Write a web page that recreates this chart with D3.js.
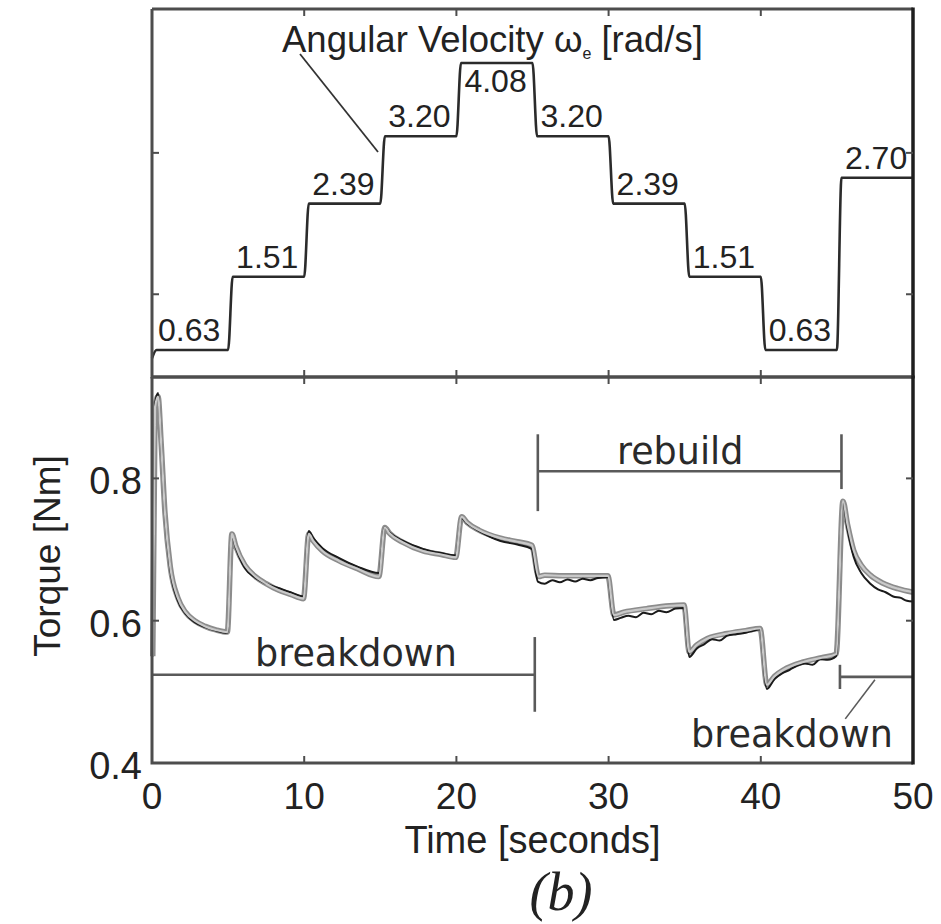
<!DOCTYPE html>
<html>
<head>
<meta charset="utf-8">
<script src="https://cdn.jsdelivr.net/npm/d3@7/dist/d3.min.js"></script>
<style>
  html, body { margin: 0; padding: 0; background: #fff; }
  svg { display: block; }
</style>
</head>
<body>
<svg id="chart" width="941" height="924"></svg>
<script>
// ---- Angular velocity schedule (top panel) ----
const stepTimes = [0, 5, 10, 15, 20, 25, 30, 35, 40, 45];
const omegaLevels = [0.63, 1.51, 2.39, 3.20, 4.08, 3.20, 2.39, 1.51, 0.63, 2.70];
const omegaStart = 0.53;
const omegaTicks = [1.3, 3.0];

// ---- Torque: model (grey) ----
const modelTime = [0.05, 0.2, 0.4, 0.6, 0.85, 1.2, 1.7, 2.2, 2.8, 3.5, 4.2, 4.95,
  5.25, 5.5, 6.1, 6.8, 7.5, 8.3, 9.1, 9.95,
  10.3, 10.6, 11.2, 12.3, 13.5, 14.9,
  15.3, 15.6, 16.5, 17.8, 19.0, 19.95,
  20.35, 20.7, 21.5, 22.9, 24.0, 24.95,
  25.4, 25.8, 27.0, 28.5, 29.95,
  30.35, 31.0, 32.5, 34.0, 34.95,
  35.3, 35.8, 36.5, 37.8, 39.0, 39.95,
  40.4, 40.9, 41.5, 42.8, 44.0, 44.95,
  45.4, 45.7, 46.1, 46.6, 47.2, 48.0, 49.0, 50.0];
const modelTorque = [0.55, 0.90, 0.915, 0.85, 0.752, 0.676, 0.632, 0.612, 0.600, 0.592, 0.587, 0.584,
  0.722, 0.705, 0.678, 0.662, 0.652, 0.643, 0.637, 0.631,
  0.722, 0.712, 0.698, 0.684, 0.673, 0.662,
  0.731, 0.723, 0.710, 0.698, 0.693, 0.689,
  0.746, 0.738, 0.727, 0.716, 0.711, 0.706,
  0.662, 0.664, 0.663, 0.663, 0.663,
  0.608, 0.612, 0.617, 0.621, 0.622,
  0.556, 0.566, 0.575, 0.582, 0.586, 0.589,
  0.510, 0.522, 0.531, 0.542, 0.548, 0.553,
  0.768, 0.735, 0.699, 0.678, 0.664, 0.653, 0.645, 0.640];

// ---- Torque: measured (black) ----
const measuredTime = [0.05, 0.2, 0.4, 0.6, 0.85, 1.2, 1.7, 2.2, 2.8, 3.5, 4.2, 4.95,
  5.25, 5.5, 6.1, 6.8, 7.5, 8.3, 9.1, 9.95,
  10.3, 10.6, 11.2, 12.3, 13.5, 14.9,
  15.3, 15.6, 16.5, 17.8, 19.0, 19.95,
  20.35, 20.7, 21.5, 22.9, 24.0, 24.95,
  25.35, 25.8, 26.3, 26.8, 27.3, 27.8, 28.3, 28.8, 29.3, 29.95,
  30.35, 30.8, 31.3, 31.8, 32.3, 32.8, 33.3, 33.8, 34.4, 34.95,
  35.3, 35.8, 36.3, 36.8, 37.3, 37.8, 38.4, 39.0, 39.5, 39.95,
  40.4, 40.9, 41.4, 41.9, 42.4, 42.9, 43.4, 43.9, 44.4, 44.95,
  45.4, 45.7, 46.1, 46.6, 47.2, 47.7, 48.2, 48.7, 49.2, 49.6, 50.0];
const measuredTorque = [0.55, 0.905, 0.92, 0.85, 0.75, 0.672, 0.628, 0.61, 0.598, 0.591, 0.586, 0.583,
  0.72, 0.703, 0.674, 0.66, 0.652, 0.646, 0.64, 0.634,
  0.726, 0.716, 0.702, 0.688, 0.676, 0.667,
  0.731, 0.724, 0.712, 0.701, 0.695, 0.692,
  0.744, 0.737, 0.726, 0.712, 0.707, 0.701,
  0.655, 0.652, 0.657, 0.654, 0.658, 0.655, 0.659, 0.657, 0.660, 0.661,
  0.601, 0.604, 0.607, 0.605, 0.611, 0.609, 0.614, 0.612, 0.617, 0.618,
  0.549, 0.561, 0.567, 0.574, 0.572, 0.579, 0.581, 0.583, 0.586, 0.588,
  0.504, 0.518, 0.526, 0.531, 0.537, 0.540, 0.538, 0.546, 0.545, 0.550,
  0.766, 0.728, 0.690, 0.667, 0.652, 0.644, 0.640, 0.634, 0.632, 0.628, 0.627];

const timeTicks = [0, 10, 20, 30, 40, 50];
const torqueTicks = [0.4, 0.6, 0.8];

// ---- Phase annotations (time in s, torque in Nm) ----
const phaseBars = [
  { label: "breakdown", t0: 0, t1: 25.15, level: 0.524, endLo: 0.472, endHi: 0.577,
    textT: 13.4, textV: 0.536 },
  { label: "rebuild", t0: 25.35, t1: 45.3, level: 0.81, leftBar: [0.754, 0.862], rightBar: [0.785, 0.862],
    textT: 34.7, textV: 0.82 },
];
const breakdown2 = { label: "breakdown", t0: 45.2, t1: 50, level: 0.521, bar: [0.504, 0.538],
  leaderFrom: [47.5, 0.517], leaderTo: [45.55, 0.462], textT: 42.05, textV: 0.423 };

// ---- Layout ----
const left = 152, right = 913;
const topY0 = 9, topY1 = 377, botY0 = 377, botY1 = 763;

const svg = d3.select("#chart");
const x = d3.scaleLinear().domain([0, 50]).range([left, right]);
const yW = d3.scaleLinear().domain([0.305, 4.73]).range([topY1, topY0]);
const yT = d3.scaleLinear().domain([0.4, 0.9425]).range([botY1, botY0]);

const textFont = "'Liberation Sans', Arimo, Arial, Helvetica, sans-serif";
const annFont = "'DejaVu Sans', sans-serif";
const ink = "#222";

// ---- Top panel: angular velocity steps ----
const wPts = [[0, omegaStart]];
stepTimes.forEach((t, i) => {
  if (i === 0) { wPts.push([0.3, omegaLevels[0]]); }
  else { wPts.push([t, omegaLevels[i - 1]]); wPts.push([t + 0.3, omegaLevels[i]]); }
});
wPts.push([50, omegaLevels[omegaLevels.length - 1]]);

const wLine = d3.line().x(d => x(d[0])).y(d => yW(d[1])).curve(d3.curveMonotoneX);
svg.append("path").datum(wPts).attr("d", wLine)
  .attr("fill", "none").attr("stroke", "#2b2b2b").attr("stroke-width", 2.6);

// step value labels
svg.append("g").selectAll("text").data(omegaLevels).join("text")
  .attr("x", (d, i) => x(stepTimes[i]) + (i === 0 ? 6 : 8))
  .attr("y", (d, i) => i === 4 ? yW(d) + 29 : yW(d) - 9)
  .attr("font-family", textFont).attr("font-size", 32).attr("fill", ink)
  .text(d => d.toFixed(2));

// panel title with leader line
const title = svg.append("text").attr("x", 282).attr("y", 52)
  .attr("font-family", textFont).attr("font-size", 36.5).attr("fill", ink);
title.append("tspan").text("Angular Velocity ");
title.append("tspan").text("\u03c9");
title.append("tspan").attr("font-size", 16).attr("dy", 7).text("e");
title.append("tspan").attr("dy", -7).text(" [rad/s]");
svg.append("line").attr("x1", 300).attr("y1", 54)
  .attr("x2", x(14.85)).attr("y2", yW(3.01))
  .attr("stroke", "#333").attr("stroke-width", 1.8);

// ---- Bottom panel: torque ----
const tLine = d3.line().x(d => x(d[0])).y(d => yT(d[1])).curve(d3.curveMonotoneX);
const modelPts = modelTime.map((t, i) => [t, modelTorque[i]]);
const measPts = measuredTime.map((t, i) => [t, measuredTorque[i]]);

svg.append("path").datum(modelPts).attr("d", tLine)
  .attr("fill", "none").attr("stroke", "#8c8c8c").attr("stroke-width", 5.5)
  .attr("stroke-linejoin", "round");
svg.append("path").datum(measPts).attr("d", tLine)
  .attr("fill", "none").attr("stroke", "#1a1a1a").attr("stroke-width", 2)
  .attr("stroke-linejoin", "round");
svg.append("path").datum(modelPts).attr("d", tLine)
  .attr("fill", "none").attr("stroke", "#c9c9c9").attr("stroke-width", 2.2)
  .attr("stroke-linejoin", "round");

// phase annotation bars
const barColor = "#5a5a5a";
const annG = svg.append("g").attr("stroke", barColor).attr("stroke-width", 2.6);
// breakdown (0-25 s)
const b1 = phaseBars[0];
annG.append("line").attr("x1", x(b1.t0)).attr("x2", x(b1.t1)).attr("y1", yT(b1.level)).attr("y2", yT(b1.level));
annG.append("line").attr("x1", x(b1.t1)).attr("x2", x(b1.t1)).attr("y1", yT(b1.endLo)).attr("y2", yT(b1.endHi));
// rebuild (25-45 s)
const r1 = phaseBars[1];
annG.append("line").attr("x1", x(r1.t0)).attr("x2", x(r1.t1)).attr("y1", yT(r1.level)).attr("y2", yT(r1.level));
annG.append("line").attr("x1", x(r1.t0)).attr("x2", x(r1.t0)).attr("y1", yT(r1.leftBar[0])).attr("y2", yT(r1.leftBar[1]));
annG.append("line").attr("x1", x(r1.t1)).attr("x2", x(r1.t1)).attr("y1", yT(r1.rightBar[0])).attr("y2", yT(r1.rightBar[1]));
// breakdown (45-50 s)
annG.append("line").attr("x1", x(breakdown2.t0)).attr("x2", x(breakdown2.t1)).attr("y1", yT(breakdown2.level)).attr("y2", yT(breakdown2.level));
annG.append("line").attr("x1", x(breakdown2.t0)).attr("x2", x(breakdown2.t0)).attr("y1", yT(breakdown2.bar[0])).attr("y2", yT(breakdown2.bar[1]));
annG.append("line").attr("stroke-width", 1.6)
  .attr("x1", x(breakdown2.leaderFrom[0])).attr("y1", yT(breakdown2.leaderFrom[1]))
  .attr("x2", x(breakdown2.leaderTo[0])).attr("y2", yT(breakdown2.leaderTo[1]));

svg.append("g").selectAll("text").data([...phaseBars, breakdown2]).join("text")
  .attr("x", d => x(d.textT)).attr("y", d => yT(d.textV))
  .attr("text-anchor", "middle")
  .attr("font-family", annFont).attr("font-size", 36.5).attr("fill", "#2a2a2a")
  .text(d => d.label);

// ---- Frames and ticks ----
const frameColor = "#4d4d4d";
function frame(y0, y1) {
  const g = svg.append("g").attr("fill", "none");
  g.append("path").attr("d", `M${left},${y0}H${right}M${left},${y0}V${y1}H${right}`)
    .attr("stroke", frameColor).attr("stroke-width", 3);
  g.append("line").attr("x1", right).attr("x2", right).attr("y1", y0 - 1.5).attr("y2", y1 + 1.5)
    .attr("stroke", "#1e1e1e").attr("stroke-width", 3.5);
}
frame(topY0, topY1);
frame(botY0, botY1);

// inward time ticks on both panels
const innerT = timeTicks.filter(t => t > 0 && t < 50);
[[topY0, 1], [topY1, -1], [botY0, 1], [botY1, -1]].forEach(([yy, dir]) => {
  svg.append("g").selectAll("line").data(innerT).join("line")
    .attr("x1", d => x(d)).attr("x2", d => x(d))
    .attr("y1", yy).attr("y2", yy + dir * 7)
    .attr("stroke", frameColor).attr("stroke-width", 2);
});
// inward value ticks
[[yW, omegaTicks], [yT, torqueTicks.filter(v => v > 0.4)]].forEach(([sc, ticks]) => {
  [[left, 1], [right, -1]].forEach(([xx, dir]) => {
    svg.append("g").selectAll("line").data(ticks).join("line")
      .attr("x1", xx).attr("x2", xx + dir * 7)
      .attr("y1", d => sc(d)).attr("y2", d => sc(d))
      .attr("stroke", frameColor).attr("stroke-width", 2);
  });
});

// axis tick labels
svg.append("g").selectAll("text").data(timeTicks).join("text")
  .attr("x", d => x(d)).attr("y", 809).attr("text-anchor", "middle")
  .attr("font-family", textFont).attr("font-size", 37).attr("fill", ink)
  .text(d => d);
svg.append("g").selectAll("text").data(torqueTicks).join("text")
  .attr("x", 142).attr("y", d => yT(d) + 16).attr("text-anchor", "end")
  .attr("font-family", textFont).attr("font-size", 38).attr("fill", ink)
  .text(d => d.toFixed(1));

// axis titles
svg.append("text").attr("x", (left + right) / 2).attr("y", 853).attr("text-anchor", "middle")
  .attr("font-family", textFont).attr("font-size", 38).attr("fill", ink)
  .text("Time [seconds]");
svg.append("text").attr("transform", "translate(60,556) rotate(-90)")
  .attr("text-anchor", "middle")
  .attr("font-family", textFont).attr("font-size", 37).attr("fill", ink)
  .text("Torque [Nm]");
svg.append("text").attr("x", 561).attr("y", 910).attr("text-anchor", "middle")
  .attr("font-family", "'Liberation Serif', 'DejaVu Serif', serif").attr("font-style", "italic")
  .attr("font-size", 54).attr("fill", ink)
  .text("(b)");
</script>
</body>
</html>
